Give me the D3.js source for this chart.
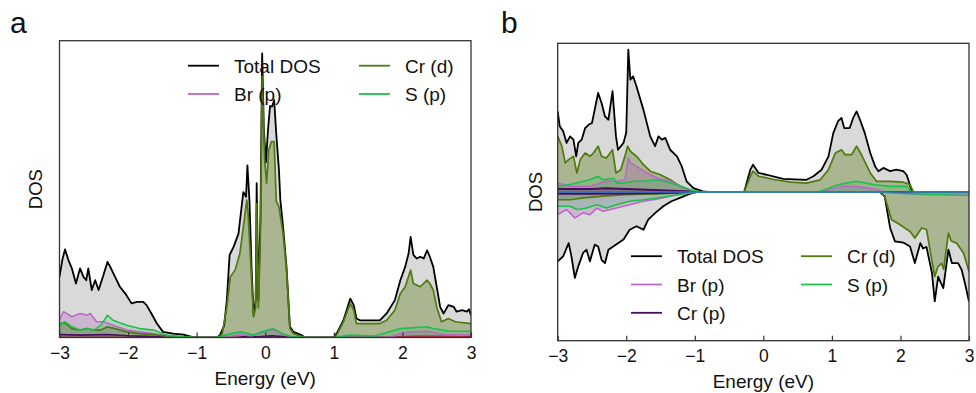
<!DOCTYPE html>
<html><head><meta charset="utf-8">
<script src="https://cdn.jsdelivr.net/npm/d3@7"></script>
<style>body{margin:0;background:#fff} text{font-family:"Liberation Sans",Arial,sans-serif;fill:#111}</style>
</head><body><svg id="c" width="976" height="393"></svg>
<script>
const xTicks=[-3,-2,-1,0,1,2,3];
const legendA=["Total DOS","Cr (d)","Br (p)","S (p)"];
const legendB=["Total DOS","Cr (d)","Br (p)","S (p)","Cr (p)"];

// ---- panel a ----
const aTotal=[[-3.00,20.4],[-2.96,26],[-2.92,29.7],[-2.87,26.1],[-2.82,23.3],[-2.76,18.2],[-2.70,23.3],[-2.65,20.4],[-2.61,19.3],[-2.58,23.3],[-2.53,16.0],[-2.48,19.3],[-2.43,16.0],[-2.36,21.0],[-2.30,25.5],[-2.26,23.8],[-2.19,20.4],[-2.12,17.1],[-2.04,14.8],[-1.95,11.5],[-1.87,12.0],[-1.78,12.0],[-1.73,10.9],[-1.66,8.1],[-1.58,4.7],[-1.49,1.9],[-1.34,1.3],[-1.19,1.0],[-1.07,0.2],[-1.00,0],[-0.71,0],[-0.66,0.8],[-0.60,4],[-0.56,12.6],[-0.52,27.8],[-0.46,30.6],[-0.39,35],[-0.32,49],[-0.28,47.4],[-0.26,58],[-0.23,46],[-0.20,23.8],[-0.17,7.5],[-0.14,12.6],[-0.125,52],[-0.10,12.6],[-0.07,40.7],[-0.045,95.7],[-0.02,70],[0.01,59],[0.04,70],[0.07,78],[0.10,77.8],[0.13,80],[0.16,68.8],[0.20,56.4],[0.22,46.3],[0.26,37.3],[0.31,23.8],[0.36,3.6],[0.41,1.9],[0.53,0.8],[0.58,0],[1.00,0],[1.04,1.3],[1.14,5.8],[1.24,13.1],[1.29,10.9],[1.33,6.4],[1.38,5.8],[1.67,5.8],[1.77,8.1],[1.89,12.6],[1.97,19.3],[2.04,23.8],[2.09,28.3],[2.12,33.9],[2.16,27.8],[2.21,26.6],[2.26,27.2],[2.31,26.6],[2.36,29.4],[2.40,27.2],[2.45,23.8],[2.50,17.1],[2.55,10.3],[2.60,8.1],[2.67,10.9],[2.75,10.3],[2.79,8.7],[2.87,9.2],[2.94,8.7],[2.97,9.5],[3.00,7.5]];
const aCrd=[[-3.00,4.7],[-2.92,4.9],[-2.82,3.0],[-2.70,2.5],[-2.60,3.0],[-2.50,2.5],[-2.40,2.5],[-2.30,3.6],[-2.19,3.0],[-2.02,1.9],[-1.83,1.3],[-1.63,1.0],[-1.44,0.5],[-1.19,0.2],[-1.00,0],[-0.71,0],[-0.63,0.8],[-0.56,10.3],[-0.51,20.4],[-0.44,22.7],[-0.37,28.3],[-0.30,40.7],[-0.27,46.3],[-0.25,42],[-0.20,20],[-0.17,7.0],[-0.14,10],[-0.125,45],[-0.10,10],[-0.07,35],[-0.045,88],[-0.01,60],[0.02,52],[0.05,63],[0.09,66],[0.13,66],[0.16,46],[0.20,44],[0.26,35],[0.31,22.7],[0.36,3.0],[0.41,1.3],[0.58,0],[1.00,0],[1.04,0.8],[1.14,5.3],[1.24,11.5],[1.29,9.2],[1.33,4.7],[1.67,4.7],[1.77,5.8],[1.89,9.2],[1.97,14.8],[2.04,17.1],[2.12,22.7],[2.16,18.2],[2.26,17.1],[2.36,19.3],[2.40,18.2],[2.45,16.0],[2.50,10.3],[2.57,5.3],[2.67,6.4],[2.77,5.3],[3.00,4.7]];
const aBr=[[-3.00,6],[-2.94,8.7],[-2.82,7.0],[-2.70,8.1],[-2.60,7.5],[-2.55,8.1],[-2.46,5.3],[-2.36,5.3],[-2.22,4.1],[-2.02,2.5],[-1.83,1.9],[-1.63,1.3],[-1.44,0.5],[-1.24,0],[-0.70,0],[-0.50,0.5],[-0.35,1.0],[-0.20,0.5],[-0.05,1.8],[0.12,2.6],[0.25,1.0],[0.40,0.2],[0.60,0],[1.80,0],[1.97,1.3],[2.12,1.9],[2.36,2.1],[2.45,1.8],[2.60,1.0],[3.00,0.8]];
const aS=[[-3.00,4.2],[-2.92,5.3],[-2.82,3.6],[-2.70,2.5],[-2.60,3.0],[-2.50,2.5],[-2.40,4.1],[-2.30,7.5],[-2.22,5.8],[-2.02,4.1],[-1.83,3.0],[-1.63,2.5],[-1.44,0.8],[-1.20,0.2],[-1.00,0],[-0.70,0],[-0.50,1.3],[-0.35,1.9],[-0.17,0.8],[-0.05,1.9],[0.12,3.0],[0.25,1.3],[0.40,0.2],[0.60,0],[1.00,0],[1.24,0.8],[1.60,0.5],[1.97,3.0],[2.36,3.6],[2.45,3.0],[2.70,2.1],[3.00,2.1]];
const aCrp=[[-3.00,1.0],[-2.70,0.8],[-2.30,1.0],[-2.00,0.6],[-1.50,0.2],[-1.20,0],[-0.40,0],[-0.30,0.3],[-0.10,0.2],[0.10,0.6],[0.30,0.2],[0.50,0],[3.00,0]];
const aRed=[[-3.00,0],[1.80,0],[2.20,0.5],[2.60,0.4],[3.00,0.3]];

// ---- panel b ----
const bTotalUp=[[-3.00,27.1],[-2.97,22.1],[-2.92,20.4],[-2.87,16.5],[-2.82,18.7],[-2.77,17.6],[-2.73,12.0],[-2.70,16.5],[-2.65,17.6],[-2.60,21.5],[-2.55,22.6],[-2.50,23.2],[-2.46,27.7],[-2.41,33.3],[-2.36,29.9],[-2.31,25.4],[-2.26,24.3],[-2.20,33.9],[-2.15,18.7],[-2.12,14.2],[-2.04,16.5],[-2.00,20],[-1.97,47.9],[-1.94,37.8],[-1.90,38.9],[-1.85,35.5],[-1.75,27.7],[-1.65,18.7],[-1.58,15.4],[-1.53,18.7],[-1.48,17.6],[-1.43,18.2],[-1.36,14.2],[-1.26,12.0],[-1.19,8.6],[-1.12,3.6],[-1.02,1.3],[-0.88,0.2],[-0.80,0],[-0.28,0],[-0.19,7.5],[-0.15,9.2],[-0.07,6.4],[0.05,5.8],[0.29,4.4],[0.63,4.1],[0.73,5.3],[0.85,7.5],[0.95,12.0],[1.02,19.8],[1.09,23.8],[1.14,24.9],[1.18,21.5],[1.26,21.5],[1.31,24.9],[1.36,27.1],[1.41,24.3],[1.48,19.8],[1.56,13.1],[1.63,8.6],[1.68,7.0],[1.75,8.1],[1.85,7.0],[1.94,7.5],[2.04,7.0],[2.09,5.8],[2.16,0.8],[2.19,0],[3.00,0]];
const bTotalDn=[[-3.00,-23.3],[-2.92,-21.6],[-2.84,-17.2],[-2.80,-21.6],[-2.75,-28.9],[-2.70,-25.0],[-2.63,-20.5],[-2.58,-19.4],[-2.53,-23.3],[-2.46,-17.7],[-2.41,-18.3],[-2.36,-22.8],[-2.31,-23.9],[-2.26,-19.4],[-2.19,-18.3],[-2.12,-17.2],[-2.04,-16.0],[-1.95,-12.7],[-1.85,-11.5],[-1.75,-12.7],[-1.68,-9.3],[-1.58,-7.1],[-1.46,-4.8],[-1.34,-3.1],[-1.19,-1.7],[-1.07,-0.6],[-0.97,0],[1.70,0],[1.77,-1.5],[1.85,-12.1],[1.92,-16.6],[2.04,-17.0],[2.14,-18.3],[2.21,-23.9],[2.29,-17.2],[2.33,-19.0],[2.38,-18.5],[2.46,-27.3],[2.50,-36.8],[2.55,-28.5],[2.625,-32.3],[2.70,-19.4],[2.75,-23.9],[2.84,-23.9],[2.89,-26],[2.94,-30.6],[3.00,-36.8]];
const bCrdUp=[[-3.00,18.7],[-2.94,15.4],[-2.89,9.8],[-2.84,10.9],[-2.77,12.0],[-2.72,6.4],[-2.67,10.9],[-2.60,13.1],[-2.53,12.0],[-2.48,13.1],[-2.41,15.4],[-2.36,12.0],[-2.29,11.4],[-2.20,14.2],[-2.15,6.4],[-2.08,7.5],[-2.02,12.0],[-1.98,15.4],[-1.94,13.7],[-1.85,12.0],[-1.75,9.2],[-1.65,7.0],[-1.50,5.8],[-1.36,4.1],[-1.21,1.9],[-1.07,0.4],[-0.97,0],[-0.28,0],[-0.19,5.3],[-0.15,7.0],[-0.07,5.3],[0.15,4.2],[0.40,3.3],[0.63,3.0],[0.83,4.1],[0.95,7.5],[1.05,13.1],[1.14,14.2],[1.19,12.6],[1.29,12.6],[1.36,15.4],[1.43,12.6],[1.56,6.4],[1.65,3.6],[1.85,3.6],[2.04,3.3],[2.14,2.5],[2.19,0],[3.00,0]];
const bCrdDn=[[-3.00,-2.6],[-2.82,-2.6],[-2.62,-2.0],[-2.38,-1.5],[-2.04,-0.9],[-1.55,-0.6],[-1.07,-0.1],[-0.97,0],[1.70,0],[1.77,-1.5],[1.87,-9.3],[1.96,-10.5],[2.14,-13.3],[2.21,-15.5],[2.31,-12.1],[2.38,-12.6],[2.43,-19.4],[2.50,-28.4],[2.55,-25.0],[2.60,-24.0],[2.63,-26],[2.70,-13.8],[2.74,-16.5],[2.82,-17.2],[2.92,-20.5],[3.00,-26.7]];
const bBrUp=[[-3.00,3.0],[-2.82,1.9],[-2.53,1.9],[-2.29,3.6],[-2.15,3.6],[-2.02,4.1],[-1.97,11.4],[-1.94,9.8],[-1.85,8.6],[-1.70,6.4],[-1.55,4.7],[-1.36,3.6],[-1.21,1.9],[-1.07,0.6],[-0.92,0],[0.85,0],[1.14,1.9],[1.36,1.9],[1.65,0.8],[1.75,0],[3.00,0]];
const bBrDn=[[-3.00,-7.6],[-2.87,-5.9],[-2.75,-8.7],[-2.63,-7.0],[-2.53,-7.6],[-2.43,-5.4],[-2.34,-6.5],[-2.14,-5.4],[-1.95,-4.3],[-1.75,-3.1],[-1.56,-2.4],[-1.31,-1.2],[-1.07,-0.3],[-0.92,0],[1.75,0],[1.90,-0.3],[2.38,-0.9],[3.00,-0.6]];
const bSUp=[[-3.00,1.9],[-2.82,2.5],[-2.53,4.1],[-2.41,5.3],[-2.34,4.1],[-2.19,4.6],[-2.14,3.0],[-2.04,3.0],[-1.90,3.6],[-1.75,3.6],[-1.56,4.1],[-1.46,3.6],[-1.26,2.5],[-1.07,0.8],[-0.92,0],[0.80,0],[1.10,2.5],[1.36,3.6],[1.60,2.5],[1.85,1.9],[2.09,1.9],[2.16,0],[3.00,0]];
const bSDn=[[-3.00,-4.8],[-2.82,-4.8],[-2.72,-5.9],[-2.58,-5.4],[-2.43,-4.3],[-2.29,-5.4],[-2.14,-4.3],[-1.95,-3.1],[-1.75,-2.6],[-1.56,-2.0],[-1.31,-1.2],[-1.07,-0.3],[-0.92,0],[1.70,0],[2.00,-0.5],[3.00,-1.2]];
const bCrpUp=[[-3.00,1.0],[-2.50,1.0],[-2.30,1.3],[-2.00,1.0],[-1.50,0.6],[-1.00,0.1],[-0.90,0],[3.00,0]];
const bCrpDn=[[-3.00,-0.6],[-2.50,-0.6],[-2.00,-0.5],[-1.50,-0.3],[-1.00,0],[3.00,0]];
const bZero=[[-3.00,0],[3.00,0]];

const C={total:"#000000",totalFill:"#d9d9d9",crd:"#4f7a0e",crdFill:"#5f7d1e",br:"#bb68c6",brFill:"#a64bb5",s:"#1dbf4e",sFill:"#1dbf4e",crp:"#4a0c5c",red:"#d03030",blue:"#3a70c4"};

const svg=d3.select("#c");

function panel(o){
  const x=d3.scaleLinear().domain([-3,3]).range([o.l,o.r]);
  const y=d3.scaleLinear().domain(o.yd).range([o.b,o.t]);
  const g=svg.append("g");
  const cid="clip"+o.id;
  svg.append("clipPath").attr("id",cid).append("rect").attr("x",o.l).attr("y",o.t).attr("width",o.r-o.l).attr("height",o.b-o.t);
  const pg=g.append("g").attr("clip-path",`url(#${cid})`);
  const area=d3.area().x(d=>x(d[0])).y0(y(0)).y1(d=>y(d[1]));
  const line=d3.line().x(d=>x(d[0])).y(d=>y(d[1]));
  o.fills.forEach(f=>pg.append("path").datum(f.d).attr("d",area).attr("fill",f.c).attr("fill-opacity",f.o).attr("stroke","none"));
  o.lines.forEach(f=>pg.append("path").datum(f.d).attr("d",line).attr("fill","none").attr("stroke",f.c).attr("stroke-width",f.w).attr("stroke-linejoin","round"));
  const ax=d3.axisBottom(x).tickValues(xTicks).tickSizeInner(-5).tickSizeOuter(0).tickPadding(8.6).tickFormat(d3.format("d"));
  const axg=g.append("g").attr("transform",`translate(0,${o.b})`).call(ax);
  axg.select(".domain").remove();
  axg.selectAll(".tick line").attr("stroke","#333").attr("stroke-width",1.2);
  axg.selectAll(".tick text").attr("font-size",17.5).attr("font-family","Liberation Sans, Arial, sans-serif").attr("fill","#111");
  g.append("rect").attr("x",o.l).attr("y",o.t).attr("width",o.r-o.l).attr("height",o.b-o.t).attr("fill","none").attr("stroke","#333").attr("stroke-width",1.3);
  g.append("text").attr("x",(o.l+o.r)/2).attr("y",o.b+47).attr("text-anchor","middle").attr("font-size",19).text("Energy (eV)");
  g.append("text").attr("transform",`translate(${o.dosX},${(o.t+o.b)/2}) rotate(-90)`).attr("text-anchor","middle").attr("font-size",18.5).text("DOS");
  g.append("text").attr("x",o.labX).attr("y",33).attr("font-size",30).text(o.label);
  o.legend.forEach((it,i)=>{
    const col=i%2,row=Math.floor(i/2);
    const lx=o.lg.x0+col*o.lg.dx, ly=o.lg.y0+row*28.3;
    g.append("line").attr("x1",lx).attr("x2",lx+31).attr("y1",ly).attr("y2",ly).attr("stroke",it.c).attr("stroke-width",it.w);
    g.append("text").attr("x",lx+46).attr("y",ly+7).attr("font-size",19).text(it.t);
  });
}

panel({id:"a",label:"a",labX:10,l:59.5,r:471,t:40.7,b:337.5,yd:[0,100],dosX:41.7,
  fills:[{d:aTotal,c:C.totalFill,o:1},{d:aCrd,c:C.crdFill,o:0.38},{d:aBr,c:C.brFill,o:0.25},{d:aS,c:C.sFill,o:0.2},{d:aCrp,c:C.crp,o:0.3}],
  lines:[{d:aTotal,c:C.total,w:1.8},{d:aRed,c:C.red,w:1.4},{d:aCrp,c:C.crp,w:1.6},{d:aBr,c:C.br,w:1.6},{d:aCrd,c:C.crd,w:1.7},{d:aS,c:C.s,w:1.6}],
  lg:{x0:188,dx:171,y0:65.7},
  legend:[{t:legendA[0],c:C.total,w:1.8},{t:legendA[1],c:C.crd,w:1.8},{t:legendA[2],c:C.br,w:1.8},{t:legendA[3],c:C.s,w:1.8}]
});

panel({id:"b",label:"b",labX:501,l:557.7,r:969,t:43.3,b:340.7,yd:[-50,50],dosX:541.7,
  fills:[{d:bTotalUp,c:C.totalFill,o:1},{d:bTotalDn,c:C.totalFill,o:1},{d:bCrdUp,c:C.crdFill,o:0.38},{d:bCrdDn,c:C.crdFill,o:0.38},{d:bBrUp,c:C.brFill,o:0.25},{d:bBrDn,c:C.brFill,o:0.25},{d:bSUp,c:C.sFill,o:0.2},{d:bSDn,c:C.sFill,o:0.2},{d:bCrpUp,c:C.crp,o:0.3},{d:bCrpDn,c:C.crp,o:0.3}],
  lines:[{d:bTotalUp,c:C.total,w:1.8},{d:bTotalDn,c:C.total,w:1.8},{d:bCrdUp,c:C.crd,w:1.7},{d:bCrdDn,c:C.crd,w:1.7},{d:bBrUp,c:C.br,w:1.6},{d:bBrDn,c:C.br,w:1.6},{d:bCrpUp,c:C.crp,w:2},{d:bCrpDn,c:C.crp,w:2},{d:bSUp,c:C.s,w:1.6},{d:bSDn,c:C.s,w:1.6},{d:bZero,c:C.blue,w:1.6}],
  lg:{x0:631,dx:170,y0:256.2},
  legend:[{t:legendB[0],c:C.total,w:1.8},{t:legendB[1],c:C.crd,w:1.8},{t:legendB[2],c:C.br,w:1.8},{t:legendB[3],c:C.s,w:1.8},{t:legendB[4],c:C.crp,w:1.8}]
});
</script></body></html>
